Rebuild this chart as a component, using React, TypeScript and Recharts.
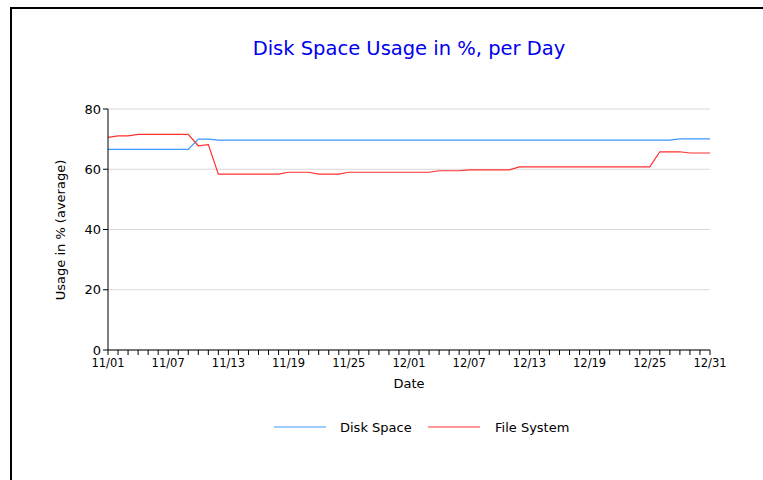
import React from 'react';
import { LineChart, Line, XAxis, YAxis, CartesianGrid } from 'recharts';

const dates = [
  '11/01','11/02','11/03','11/04','11/05','11/06','11/07','11/08','11/09','11/10',
  '11/11','11/12','11/13','11/14','11/15','11/16','11/17','11/18','11/19','11/20',
  '11/21','11/22','11/23','11/24','11/25','11/26','11/27','11/28','11/29','11/30',
  '12/01','12/02','12/03','12/04','12/05','12/06','12/07','12/08','12/09','12/10',
  '12/11','12/12','12/13','12/14','12/15','12/16','12/17','12/18','12/19','12/20',
  '12/21','12/22','12/23','12/24','12/25','12/26','12/27','12/28','12/29','12/30',
  '12/31',
];

const diskSpace = [
  66.6, 66.6, 66.6, 66.6, 66.6, 66.6, 66.6, 66.6, 66.6, 70.0,
  70.0, 69.7, 69.7, 69.7, 69.7, 69.7, 69.7, 69.7, 69.7, 69.7,
  69.7, 69.7, 69.7, 69.7, 69.7, 69.7, 69.7, 69.7, 69.7, 69.7,
  69.7, 69.7, 69.7, 69.7, 69.7, 69.7, 69.7, 69.7, 69.7, 69.7,
  69.7, 69.7, 69.7, 69.7, 69.7, 69.7, 69.7, 69.7, 69.7, 69.7,
  69.7, 69.7, 69.7, 69.7, 69.7, 69.7, 69.7, 70.1, 70.1, 70.1,
  70.1,
];

const fileSystem = [
  70.6, 71.1, 71.1, 71.6, 71.6, 71.6, 71.6, 71.6, 71.6, 67.8,
  68.2, 58.4, 58.4, 58.4, 58.4, 58.4, 58.4, 58.4, 59.0, 59.0,
  59.0, 58.4, 58.4, 58.4, 59.0, 59.0, 59.0, 59.0, 59.0, 59.0,
  59.0, 59.0, 59.0, 59.5, 59.5, 59.5, 59.8, 59.8, 59.8, 59.8,
  59.8, 60.8, 60.8, 60.8, 60.8, 60.8, 60.8, 60.8, 60.8, 60.8,
  60.8, 60.8, 60.8, 60.8, 60.8, 65.8, 65.8, 65.8, 65.4, 65.4,
  65.4,
];

const yTicks = [0, 20, 40, 60, 80];

const seriesNames = ['Disk Space', 'File System'];
const seriesColors = ['#3a98ff', '#ff3030'];

const data = dates.map((d, i) => ({ date: d, disk: diskSpace[i], fs: fileSystem[i] }));

const FONT = '"DejaVu Sans", Verdana, sans-serif';

export default function App() {
  return (
    <div style={{ position: 'absolute', left: 0, top: 0, width: 763, height: 480, background: '#fff', fontFamily: FONT }}>
      <div style={{ position: 'absolute', left: 10, top: 7, width: 753, height: 473, borderLeft: '2px solid #000', borderTop: '2px solid #000' }} />
      <div style={{ position: 'absolute', left: 0, top: 0 }}>
        <LineChart width={763} height={480} data={data} margin={{ top: 109, right: 53, bottom: 100, left: 68 }}>
          <CartesianGrid vertical={false} stroke="#d8d8d8" strokeWidth={1} />
          <XAxis
            dataKey="date"
            interval={0}
            height={30}
            tickSize={5}
            tickLine={{ stroke: '#000' }}
            axisLine={{ stroke: '#000' }}
            tick={{ fill: '#000', fontSize: 11.5, fontFamily: FONT }}
            tickFormatter={(v: string, i: number) => (i % 6 === 0 ? v : '')}
            tickMargin={4}
          />
          <YAxis
            width={40}
            domain={[0, 80]}
            ticks={yTicks}
            tickSize={5}
            tickLine={{ stroke: '#000' }}
            axisLine={{ stroke: '#000' }}
            tick={{ fill: '#000', fontSize: 13, fontFamily: FONT }}
            tickMargin={2}
          />
          <Line type="linear" dataKey="disk" stroke={seriesColors[0]} strokeWidth={1.2} dot={false} isAnimationActive={false} />
          <Line type="linear" dataKey="fs" stroke={seriesColors[1]} strokeWidth={1.2} dot={false} isAnimationActive={false} />
        </LineChart>
      </div>
      <svg width={763} height={480} style={{ position: 'absolute', left: 0, top: 0, pointerEvents: 'none' }}>
        <text x={409} y={55} textAnchor="middle" fontSize={19.5} fill="#0000ee" fontFamily={FONT}>Disk Space Usage in %, per Day</text>
        <text x={409} y={388} textAnchor="middle" fontSize={13} fill="#000" fontFamily={FONT}>Date</text>
        <text x={0} y={0} transform="translate(65,230) rotate(-90)" textAnchor="middle" fontSize={13} fill="#000" fontFamily={FONT}>Usage in % (average)</text>
        <line x1={274} y1={427} x2={326} y2={427} stroke={seriesColors[0]} strokeWidth={1} />
        <text x={340} y={432} fontSize={13} fill="#000" fontFamily={FONT}>{seriesNames[0]}</text>
        <line x1={428} y1={427} x2={480} y2={427} stroke={seriesColors[1]} strokeWidth={1} />
        <text x={495} y={432} fontSize={13} fill="#000" fontFamily={FONT}>{seriesNames[1]}</text>
      </svg>
    </div>
  );
}
